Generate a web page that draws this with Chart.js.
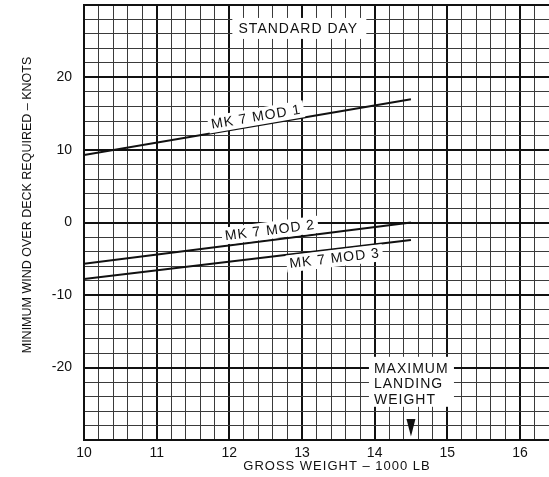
<!DOCTYPE html>
<html>
<head>
<meta charset="utf-8">
<script src="https://cdn.jsdelivr.net/npm/chart.js@4/dist/chart.umd.min.js"></script>
<style>
  body { margin: 0; background: #fff; }
  #wrap { width: 549px; height: 477px; position: relative; }
</style>
</head>
<body>
<div id="wrap"><canvas id="chart"></canvas></div>
<script>
// values
const weights = [10, 14.5];
const mod1 = [9.3, 17];
const mod2 = [-5.7, 0];
const mod3 = [-7.8, -2.4];
const seriesNames = ['MK 7 MOD 1', 'MK 7 MOD 2', 'MK 7 MOD 3'];
const xTicks = [10, 11, 12, 13, 14, 15, 16];
const yTicks = [-20, -10, 0, 10, 20];
const maxLandingWeight = 14.5;

const FONT = '"Liberation Sans", Arial, sans-serif';
const INK = '#111';

const isWhole = (v) => Math.abs(v - Math.round(v)) < 1e-6;
const isTen = (v) => isWhole(v / 10);

function toPoints(ys) {
  return weights.map((x, i) => ({ x: x, y: ys[i] }));
}

// line label placement (data coords)
const lineLabels = [
  { text: seriesNames[0], ds: 0, x: 12.37, y: 14.5 },
  { text: seriesNames[1], ds: 1, x: 12.56, y: -1.15 },
  { text: seriesNames[2], ds: 2, x: 13.45, y: -5.0 }
];

function boxedText(ctx, text, cx, cy, angle) {
  ctx.save();
  ctx.translate(cx, cy);
  ctx.rotate(angle);
  const w = ctx.measureText(text).width;
  ctx.fillStyle = '#fff';
  ctx.fillRect(-w / 2 - 3, -9, w + 6, 17);
  ctx.fillStyle = INK;
  ctx.fillText(text, 0, 0);
  ctx.restore();
}

const overlay = {
  id: 'overlay',
  afterDatasetsDraw(chart) {
    const ctx = chart.ctx;
    const xs = chart.scales.x, ys = chart.scales.y;
    ctx.save();
    ctx.font = '14px ' + FONT;
    ctx.letterSpacing = '1px';
    ctx.textAlign = 'center';
    ctx.textBaseline = 'middle';

    lineLabels.forEach((l) => {
      const d = chart.data.datasets[l.ds].data;
      const p0x = xs.getPixelForValue(d[0].x), p0y = ys.getPixelForValue(d[0].y);
      const p1x = xs.getPixelForValue(d[1].x), p1y = ys.getPixelForValue(d[1].y);
      const ang = Math.atan2(p1y - p0y, p1x - p0x);
      boxedText(ctx, l.text, xs.getPixelForValue(l.x), ys.getPixelForValue(l.y), ang);
    });

    // STANDARD DAY box
    const sdx = xs.getPixelForValue(12.95), sdy = ys.getPixelForValue(26.7);
    ctx.fillStyle = '#fff';
    ctx.fillRect(sdx - 66, sdy - 11, 134, 21);
    ctx.fillStyle = INK;
    ctx.fillText('STANDARD DAY', sdx, sdy);

    // MAXIMUM LANDING WEIGHT box
    const mx = xs.getPixelForValue(maxLandingWeight);
    const bx = mx - 40, by = ys.getPixelForValue(-18.8);
    ctx.fillStyle = '#fff';
    ctx.fillRect(bx - 2, by - 2, 85, 50);
    ctx.fillStyle = INK;
    ctx.textAlign = 'left';
    ctx.textBaseline = 'top';
    ['MAXIMUM', 'LANDING', 'WEIGHT'].forEach((t, i) => {
      ctx.fillText(t, bx + 3, by + 3 + i * 15.5);
    });

    // arrow pointing at max landing weight
    const ay0 = ys.getPixelForValue(-27.1), ay1 = ys.getPixelForValue(-29.5);
    ctx.beginPath();
    ctx.moveTo(mx - 4.5, ay0);
    ctx.lineTo(mx + 4.5, ay0);
    ctx.lineTo(mx, ay1);
    ctx.closePath();
    ctx.fill();
    ctx.restore();
  },
  afterDraw(chart) {
    const ctx = chart.ctx;
    ctx.save();
    ctx.fillStyle = INK;
    ctx.textAlign = 'center';
    ctx.textBaseline = 'middle';
    ctx.font = '13px ' + FONT;
    ctx.letterSpacing = '1px';
    ctx.fillText('GROSS WEIGHT \u2013 1000 LB', 337, 466);
    ctx.font = '12.5px ' + FONT;
    ctx.letterSpacing = '0px';
    ctx.translate(28, 205);
    ctx.rotate(-Math.PI / 2);
    ctx.fillText('MINIMUM WIND OVER DECK REQUIRED \u2013 KNOTS', 0, 0);
    ctx.restore();
  }
};

const lineStyle = {
  borderColor: INK,
  borderWidth: 2,
  pointRadius: 0,
  showLine: true,
  fill: false
};

new Chart(document.getElementById('chart'), {
  type: 'scatter',
  data: {
    datasets: [
      Object.assign({ label: seriesNames[0], data: toPoints(mod1) }, lineStyle),
      Object.assign({ label: seriesNames[1], data: toPoints(mod2) }, lineStyle),
      Object.assign({ label: seriesNames[2], data: toPoints(mod3) }, lineStyle)
    ]
  },
  options: {
    responsive: true,
    maintainAspectRatio: false,
    animation: false,
    layout: { padding: { top: 5, left: 0, right: 0, bottom: 0 } },
    plugins: { legend: { display: false }, tooltip: { enabled: false } },
    scales: {
      x: {
        type: 'linear',
        min: 10,
        max: 16.4,
        afterFit: (s) => { s.height = 37; s.paddingLeft = 0; s.paddingRight = 0; },
        border: { display: true, color: INK, width: 2 },
        grid: {
          drawTicks: false,
          color: (c) => isWhole(c.tick.value) ? INK : '#3a3a3a',
          lineWidth: (c) => isWhole(c.tick.value) ? 2 : 1
        },
        ticks: {
          stepSize: 0.2,
          autoSkip: false,
          maxRotation: 0,
          padding: 5,
          color: INK,
          font: { family: FONT, size: 14 },
          callback: (v) => {
            const hit = xTicks.find((t) => Math.abs(t - v) < 1e-6);
            return hit !== undefined ? String(hit) : '';
          }
        }
      },
      y: {
        type: 'linear',
        min: -30,
        max: 30,
        afterFit: (s) => { s.width = 84; s.paddingTop = 0; s.paddingBottom = 0; },
        border: { display: true, color: INK, width: 2 },
        grid: {
          drawTicks: false,
          color: (c) => isTen(c.tick.value) ? INK : '#3a3a3a',
          lineWidth: (c) => isTen(c.tick.value) ? 2 : 1
        },
        ticks: {
          stepSize: 2,
          autoSkip: false,
          padding: 12,
          color: INK,
          font: { family: FONT, size: 14 },
          callback: (v) => yTicks.includes(Math.round(v)) && isWhole(v) ? String(Math.round(v)) : ''
        }
      }
    }
  },
  plugins: [overlay]
});
</script>
</body>
</html>
